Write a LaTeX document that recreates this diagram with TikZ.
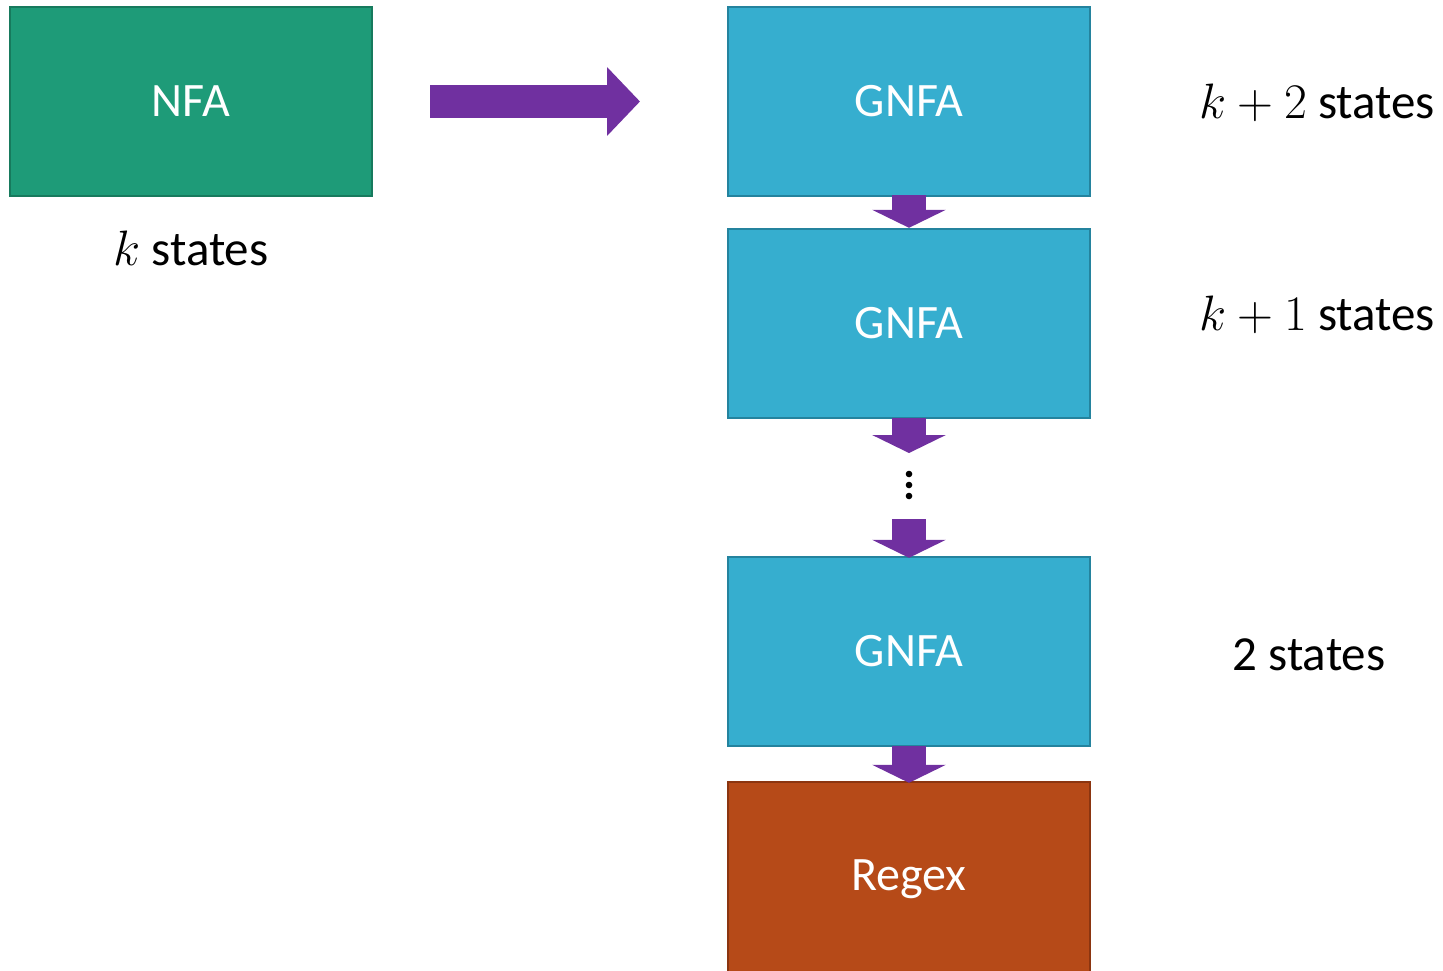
\documentclass[tikz,border=0pt]{standalone}
\usepackage{fontspec}
\setmainfont{Carlito}
\usetikzlibrary{arrows.meta}
\definecolor{nfafill}{HTML}{1E9B78}
\definecolor{nfaline}{HTML}{177A5D}
\definecolor{gnfafill}{HTML}{36AECF}
\definecolor{gnfaline}{HTML}{24839E}
\definecolor{rxfill}{HTML}{B64A18}
\definecolor{rxline}{HTML}{8B3510}
\definecolor{arrowpurple}{HTML}{7030A0}
\tikzset{
  box/.style={rectangle, minimum width=181pt, minimum height=94.5pt, line width=1.2pt,
    text=white, font=\fontsize{24}{28}\selectfont, inner sep=0pt},
  nfabox/.style={box, fill=nfafill, draw=nfaline},
  gnfabox/.style={box, fill=gnfafill, draw=gnfaline},
  rxbox/.style={box, fill=rxfill, draw=rxline, minimum height=97pt},
  lbl/.style={text=black, font=\fontsize{24.5}{30}\selectfont, inner sep=0pt},
  downarrow/.style={draw=arrowpurple, fill=arrowpurple, line width=17pt,
    -{Triangle[width=36.5pt, length=9pt]}},
  bigarrow/.style={draw=arrowpurple, fill=arrowpurple, line width=16.5pt,
    -{Triangle[width=33.5pt, length=16.5pt]}},
  dot/.style={circle, fill=black, inner sep=0pt, minimum size=3.3pt},
}
\begin{document}
\begin{tikzpicture}[x=0.5pt, y=-0.5pt]
  \clip (0,0) rectangle (1443,970);
  \fill[white] (0,0) rectangle (1443,970);

  \node[nfabox]  (nfa) at (191,101.5) {NFA};
  \node[gnfabox] (g1)  at (909,101.5) {GNFA};
  \node[gnfabox] (g2)  at (909,323.5) {GNFA};
  \node[gnfabox] (g3)  at (909,651.5) {GNFA};
  \node[rxbox]   (rx)  at (909,879)   {Regex};

  \node[lbl] (lk)  at (191,248) {$k$ states};
  \node[lbl] (lk2) at (1317,103) {$k+2$ states};
  \node[lbl] (lk1) at (1317,315) {$k+1$ states};
  \node[lbl] (l2)  at (1309,655) {2 states};

  \coordinate (bs) at (430,101.5);
  \coordinate (be) at (640,101.5);
  \draw[bigarrow] (bs) -- (be);

  \draw[downarrow] ([yshift=1pt]g1.south) -- (g2.north);
  \coordinate (a2e) at (909,453);
  \draw[downarrow] ([yshift=0.5pt]g2.south) -- (a2e);
  \coordinate (a3s) at (909,519);
  \draw[downarrow] (a3s) -- ([yshift=-1pt]g3.north);
  \draw[downarrow] ([yshift=0.5pt]g3.south) -- ([yshift=-1pt]rx.north);

  \node[dot] (d1) at (909,474) {};
  \node[dot] (d2) at (909,485) {};
  \node[dot] (d3) at (909,496) {};
\end{tikzpicture}
\end{document}
